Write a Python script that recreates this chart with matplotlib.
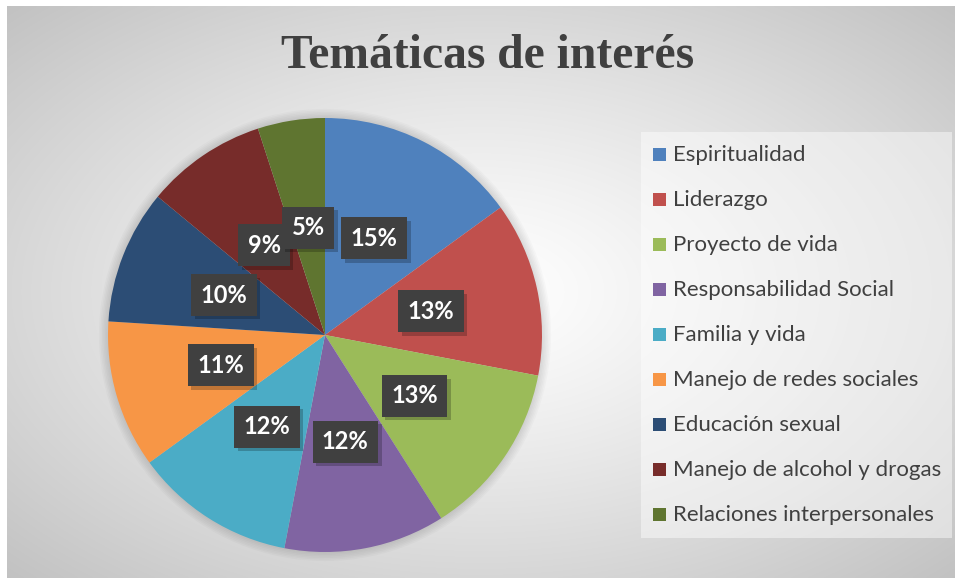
import numpy as np
import matplotlib
matplotlib.use("Agg")
import matplotlib.pyplot as plt
from matplotlib.patches import Rectangle, Circle
import matplotlib.patheffects as pe

categories = ["Espiritualidad", "Liderazgo", "Proyecto de vida",
              "Responsabilidad Social", "Familia y vida",
              "Manejo de redes sociales", "Educación sexual",
              "Manejo de alcohol y drogas", "Relaciones interpersonales"]
values = [15, 13, 13, 12, 12, 11, 10, 9, 5]
colors = ["#4F81BD", "#C0504D", "#9BBB59", "#8064A2", "#4BACC6",
          "#F79646", "#2C4D75", "#772C2A", "#5F7530"]
title = "Temáticas de interés"

W, H = 955, 578
plt.rcParams['hatch.color'] = '#5a5a5a'
plt.rcParams['hatch.linewidth'] = 1.5
fig = plt.figure(figsize=(W / 100, H / 100), dpi=100)
fig.patch.set_facecolor("white")

# background radial gradient
bx0, by0 = 7, 6
bg = fig.add_axes([bx0 / W, 0, (W - bx0) / W, (H - by0) / H])
bg.set_axis_off()
gx = np.linspace(0, 1, 480)
gy = np.linspace(0, 1, 290)
X, Y = np.meshgrid(gx, gy)
r = np.sqrt(((X - 0.5) / 0.5) ** 2 + ((Y - 0.5) / 0.5) ** 2) / np.sqrt(2)
c = 1.0 - 0.24 * np.clip(r, 0, 1) ** 1.2
bg.imshow(np.dstack([c, c, c]), aspect="auto", extent=[0, 1, 0, 1],
          interpolation="bilinear")
bg.set_xlim(0, 1)
bg.set_ylim(0, 1)

# pie
cx, cy, R = 325, 335, 217
ax = fig.add_axes([(cx - R * 1.06) / W, (H - cy - R * 1.06) / H,
                   2 * R * 1.06 / W, 2 * R * 1.06 / H])
for k in range(6):
    ax.add_patch(Circle((0, 0), 1.0 + 0.007 * (k + 1), color="#000000",
                        alpha=0.018, lw=0, zorder=0))
wedges, texts, autotexts = ax.pie(
    values, colors=colors, startangle=90, counterclock=False,
    autopct="%d%%", pctdistance=0.5, radius=1.0,
    wedgeprops=dict(linewidth=0),
    textprops=dict(color="white", fontsize=17, fontweight="bold",
                   family="Lato"))
ax.set_xlim(-1.06, 1.06)
ax.set_ylim(-1.06, 1.06)
for t in autotexts:
    t.set_bbox(dict(boxstyle="square,pad=0.4", facecolor="#404040",
                    edgecolor="none", hatch="..", linewidth=0))
    t.get_bbox_patch().set_path_effects(
        [pe.SimplePatchShadow(offset=(2.5, -2.5), shadow_rgbFace="black",
                              alpha=0.22), pe.Normal()])

# title
fig.text(488 / W, 1 - 56 / H, title, ha="center", va="center",
         fontsize=34.3, fontweight="bold", family="Liberation Serif",
         color="#404040")

# legend
lg = fig.add_axes([0, 0, 1, 1], facecolor="none")
lg.set_axis_off()
lg.set_xlim(0, W)
lg.set_ylim(H, 0)
lg.add_patch(Rectangle((641, 132), 311, 406, facecolor="white", alpha=0.45,
                       edgecolor="none"))
for i, (name, col) in enumerate(zip(categories, colors)):
    y = 155 + 45 * i
    lg.add_patch(Rectangle((653, y - 7), 13, 13, facecolor=col,
                           edgecolor="none"))
    lg.text(673, y, name, ha="left", va="center", fontsize=16,
            family="Lato", color="#404040")

fig.savefig("out.png", dpi=100)
